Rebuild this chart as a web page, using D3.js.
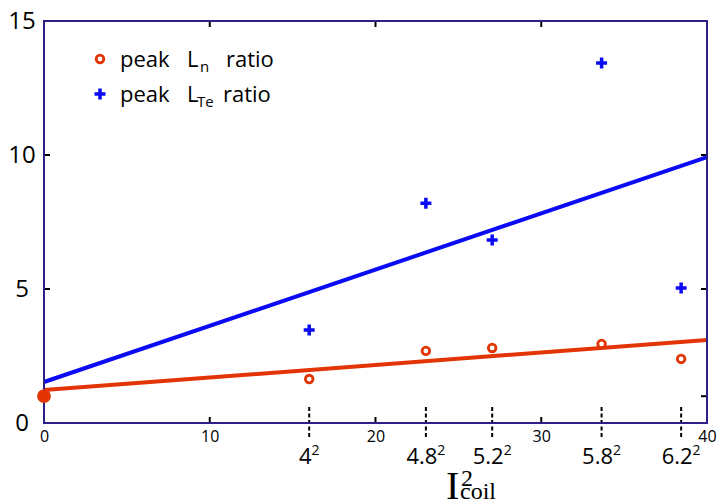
<!DOCTYPE html>
<html>
<head>
<meta charset="utf-8">
<script src="https://cdn.jsdelivr.net/npm/d3@7"></script>
<style>
  body { margin: 0; background: #fff; }
  svg { display: block; }
</style>
</head>
<body>
<div id="chart"></div>
<script>
// coil current (kA) for each run, x axis is I^2
var coil = [0, 4, 4.8, 5.2, 5.8, 6.2];
var coilLabels = ["", "4", "4.8", "5.2", "5.8", "6.2"];
var lnRatio = [1.0, 1.64, 2.69, 2.8, 2.95, 2.39];
var lteRatio = [null, 3.47, 8.2, 6.83, 13.43, 5.04];
// linear fits, value at x = 0 and x = 40
var fitX = [0, 40];
var fitLn = [1.23, 3.1];
var fitLte = [1.53, 9.92];
var xTicks = [0, 10, 20, 30, 40];
var yTicks = [0, 5, 10, 15];
var yMinorTicks = [1, 5, 10];

var red = "#e23404", blue = "#0a0af5", boxColor = "#2a2088";

var W = 718, H = 504;
var margin = {top: 21, right: 11, bottom: 81, left: 44},
    width = W - margin.left - margin.right,
    height = H - margin.top - margin.bottom;

var svg = d3.select("#chart").append("svg")
    .attr("width", W)
    .attr("height", H)
    .style("font-family", "'Open Sans', 'Liberation Sans', sans-serif");

var g = svg.append("g")
    .attr("transform", "translate(" + margin.left + "," + margin.top + ")");

var x = d3.scaleLinear().domain([0, 40]).range([0, width]);
var y = d3.scaleLinear().domain([0, 15]).range([height, 0]);

// dashed markers for coil currents
var sq = coil.slice(1);
g.append("g").selectAll("line")
  .data(sq)
  .enter().append("line")
    .attr("x1", function(d) { return x(d * d); })
    .attr("x2", function(d) { return x(d * d); })
    .attr("y1", height - 16)
    .attr("y2", height + 14)
    .attr("stroke", "#000")
    .attr("stroke-width", 2)
    .attr("stroke-dasharray", "4,2.5");

// inner ticks
var tickG = g.append("g").attr("stroke", "#000").attr("stroke-width", 2);
[10, 20, 30].forEach(function(v) {
  tickG.append("line").attr("x1", x(v)).attr("x2", x(v)).attr("y1", height).attr("y2", height - 6);
  tickG.append("line").attr("x1", x(v)).attr("x2", x(v)).attr("y1", 0).attr("y2", 6);
});
yMinorTicks.forEach(function(v) {
  tickG.append("line").attr("x1", 0).attr("x2", 6).attr("y1", y(v)).attr("y2", y(v));
  tickG.append("line").attr("x1", width).attr("x2", width - 6).attr("y1", y(v)).attr("y2", y(v));
});

// x axis numbers
var xAxis = g.append("g")
  .attr("transform", "translate(0," + height + ")")
  .call(d3.axisBottom(x).tickValues(xTicks).tickSize(0).tickPadding(8));
xAxis.select(".domain").remove();
xAxis.selectAll("text")
  .attr("font-size", 16)
  .attr("font-family", "'Open Sans', sans-serif")
  .attr("fill", "#000");

// y axis numbers
var yAxis = g.append("g")
  .call(d3.axisLeft(y).tickValues(yTicks).tickSize(0));
yAxis.select(".domain").remove();
yAxis.selectAll("text")
  .attr("text-anchor", "middle")
  .attr("x", -22)
  .attr("font-size", 24)
  .attr("font-family", "'Open Sans', sans-serif")
  .attr("fill", "#000");

// squared coil labels
var sqLab = g.append("g").selectAll("text")
  .data(sq)
  .enter().append("text")
    .attr("x", function(d) { return x(d * d); })
    .attr("y", height + 41)
    .attr("text-anchor", "middle")
    .attr("font-size", 22)
    .attr("fill", "#000");
sqLab.append("tspan").text(function(d, i) { return coilLabels[i + 1]; });
sqLab.append("tspan").attr("font-size", 14).attr("dy", -9).text("2");

// fit lines
var fitLine = d3.line()
  .x(function(d) { return x(d[0]); })
  .y(function(d) { return y(d[1]); });

g.append("path")
  .datum(d3.zip(fitX, fitLte))
  .attr("d", fitLine)
  .attr("fill", "none")
  .attr("stroke", blue)
  .attr("stroke-width", 4);

g.append("path")
  .datum(d3.zip(fitX, fitLn))
  .attr("d", fitLine)
  .attr("fill", "none")
  .attr("stroke", red)
  .attr("stroke-width", 4);

// box
g.append("rect")
  .attr("width", width)
  .attr("height", height)
  .attr("fill", "none")
  .attr("stroke", boxColor)
  .attr("stroke-width", 2);

// markers
var plus = "M-5.5,0H5.5M0,-5.5V5.5";
g.append("g").selectAll("path")
  .data(coil.map(function(c, i) { return [c * c, lteRatio[i]]; }).filter(function(d) { return d[1] != null; }))
  .enter().append("path")
    .attr("d", plus)
    .attr("transform", function(d) { return "translate(" + x(d[0]) + "," + y(d[1]) + ")"; })
    .attr("stroke", blue)
    .attr("stroke-width", 3.5);

g.append("g").selectAll("circle")
  .data(coil.map(function(c, i) { return [c * c, lnRatio[i]]; }))
  .enter().append("circle")
    .attr("cx", function(d) { return x(d[0]); })
    .attr("cy", function(d) { return y(d[1]); })
    .attr("r", function(d, i) { return i === 0 ? 5.5 : 3.8; })
    .attr("fill", function(d, i) { return i === 0 ? red : "#fff"; })
    .attr("stroke", red)
    .attr("stroke-width", 2.8);

// legend
var leg = svg.append("g").attr("font-size", 22).attr("fill", "#000");
leg.append("circle").attr("cx", 100).attr("cy", 59).attr("r", 3.8)
  .attr("fill", "#fff").attr("stroke", red).attr("stroke-width", 2.8);
leg.append("path").attr("d", plus).attr("transform", "translate(100,94)")
  .attr("stroke", blue).attr("stroke-width", 3.5);

var t1 = leg.append("text").attr("y", 67);
t1.append("tspan").attr("x", 120).text("peak");
t1.append("tspan").attr("x", 187).text("L");
t1.append("tspan").attr("x", 200).attr("font-size", 15).attr("dy", 5).text("n");
t1.append("tspan").attr("x", 226).attr("dy", -5).text("ratio");

var t2 = leg.append("text").attr("y", 102);
t2.append("tspan").attr("x", 120).text("peak");
t2.append("tspan").attr("x", 187).text("L");
t2.append("tspan").attr("x", 197).attr("font-size", 15).attr("dy", 5).text("Te");
t2.append("tspan").attr("x", 223).attr("dy", -5).text("ratio");

// x axis title  I^2_coil
var title = svg.append("g")
  .attr("font-family", "'Liberation Serif', 'Times New Roman', serif")
  .attr("fill", "#000");
title.append("text").attr("x", 446).attr("y", 499).attr("font-size", 40).text("I");
title.append("text").attr("x", 461).attr("y", 486).attr("font-size", 24).text("2");
title.append("text").attr("x", 460).attr("y", 499).attr("font-size", 24).text("coil");
</script>
</body>
</html>
